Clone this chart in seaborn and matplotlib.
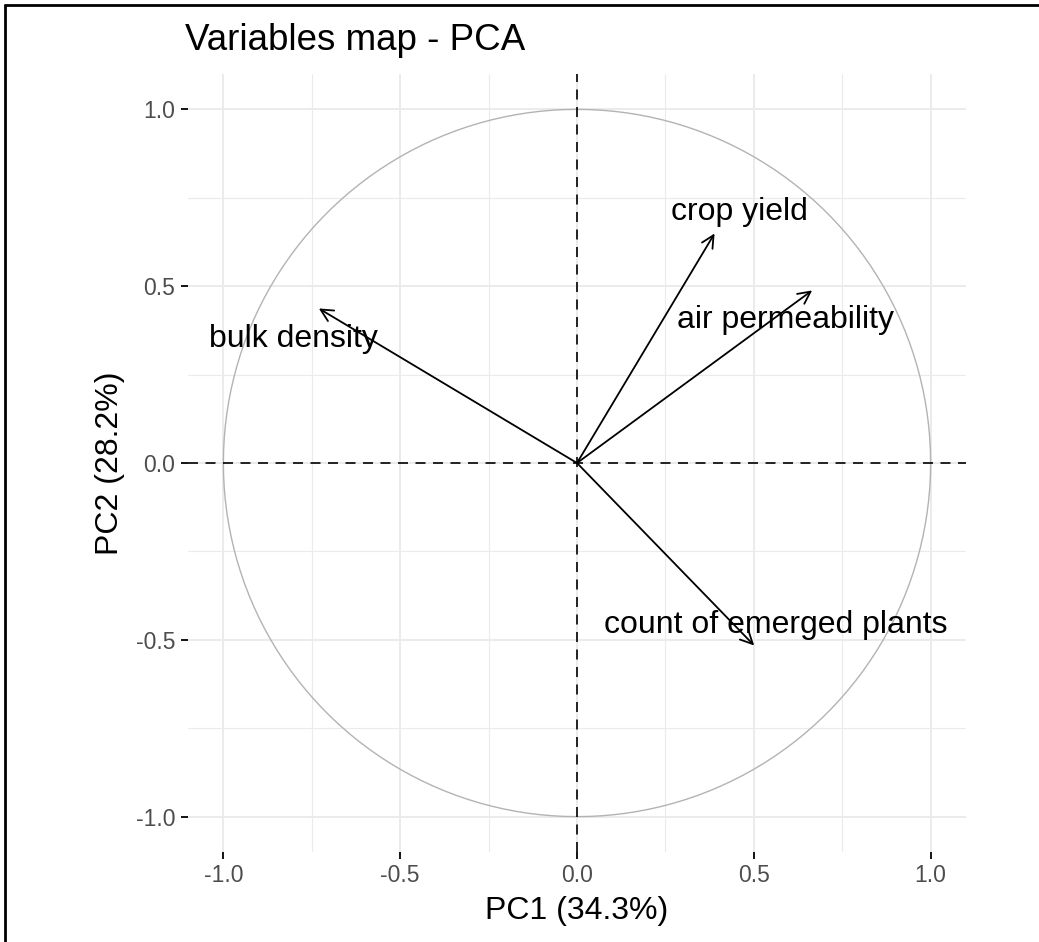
import numpy as np
import pandas as pd
import matplotlib
matplotlib.use("Agg")
import matplotlib.pyplot as plt
import seaborn as sns
from matplotlib.lines import Line2D

# PCA variable loadings (PC1, PC2)
variables = ["bulk density", "crop yield", "air permeability", "count of emerged plants"]
pc1 = [-0.730, 0.389, 0.665, 0.501]
pc2 = [0.437, 0.649, 0.488, -0.516]

# where the variable names sit (centre x, baseline y)
label_x = [-0.803, 0.459, 0.589, 0.563]
label_y = [0.327, 0.688, 0.381, -0.480]

title = "Variables map - PCA"
xlab = "PC1 (34.3%)"
ylab = "PC2 (28.2%)"
ticks = [-1.0, -0.5, 0.0, 0.5, 1.0]
minor_ticks = [-0.75, -0.25, 0.25, 0.75]

df = pd.DataFrame({"variable": variables, "PC1": pc1, "PC2": pc2,
                   "lx": label_x, "ly": label_y})

# unit circle of correlations
theta = np.linspace(0, 2 * np.pi, 361)
circle = pd.DataFrame({"x": np.cos(theta), "y": np.sin(theta)})

sns.set_theme(style="white")
plt.rcParams["font.family"] = ["Liberation Sans", "DejaVu Sans"]

fig = plt.figure(figsize=(10.39, 9.42), dpi=100)
ax = fig.add_axes([188 / 1039, 90 / 942, 778 / 1039, 778 / 942])

# grid (theme_minimal style)
ax.set_xticks(ticks)
ax.set_yticks(ticks)
ax.set_xticks(minor_ticks, minor=True)
ax.set_yticks(minor_ticks, minor=True)
ax.grid(True, which="major", color="#EBEBEB", lw=1.4, zorder=0)
ax.grid(True, which="minor", color="#EBEBEB", lw=0.8, zorder=0)
ax.set_axisbelow(True)

sns.lineplot(data=circle, x="x", y="y", sort=False, estimator=None,
             color="#B3B3B3", lw=1.0, ax=ax, zorder=1)

ax.axhline(0, color="black", lw=1.2, ls=(0, (6, 4.5)), zorder=2)
ax.axvline(0, color="black", lw=1.2, ls=(0, (6, 4.5)), zorder=2)

for _, r in df.iterrows():
    ax.annotate("", xy=(r["PC1"], r["PC2"]), xytext=(0, 0),
                arrowprops=dict(arrowstyle="->", color="black", lw=1.3,
                                mutation_scale=22, shrinkA=0, shrinkB=0),
                zorder=3)
    ax.text(r["lx"], r["ly"], r["variable"], ha="center", va="baseline",
            fontsize=23, color="black", zorder=4)

ax.set_xlim(-1.1, 1.1)
ax.set_ylim(-1.1, 1.1)
ax.set_xticklabels([f"{t:.1f}" for t in ticks])
ax.set_yticklabels([f"{t:.1f}" for t in ticks])
for s in ax.spines.values():
    s.set_visible(False)
ax.tick_params(which="major", length=5, width=1.3, color="black",
               labelsize=16.5, labelcolor="#4D4D4D", pad=4,
               bottom=True, left=True)
ax.tick_params(which="minor", length=0)

ax.set_xlabel(xlab, fontsize=23, color="black", labelpad=6)
ax.set_ylabel(ylab, fontsize=23, color="black", labelpad=8)

fig.text(185 / 1039, 1 - 50 / 942, title, fontsize=26.5, ha="left",
         va="baseline", color="black")

# screenshot frame on the left and top edges
fig.add_artist(Line2D([5 / 1039, 5 / 1039], [0, 1 - 5 / 942],
                      transform=fig.transFigure, color="black", lw=2))
fig.add_artist(Line2D([5 / 1039, 1], [1 - 5 / 942, 1 - 5 / 942],
                      transform=fig.transFigure, color="black", lw=2))

fig.savefig("out.png", dpi=100)
